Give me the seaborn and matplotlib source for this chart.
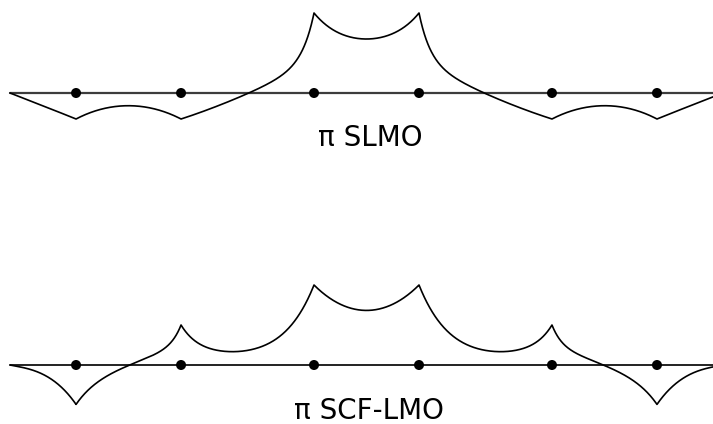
import numpy as np
import pandas as pd
import matplotlib
matplotlib.use("Agg")
import matplotlib.pyplot as plt
import seaborn as sns

# Carbon positions along the chain (short/long alternating bonds)
atoms_x = [-3.873, -2.473, -0.70, 0.70, 2.473, 3.873]
chain_ends = [-4.753, 4.753]

# Orbital amplitude sampled along the axis, pi SLMO
slmo_x = [-4.753, -4.53, -4.309, -4.09, -3.873, -3.553, -3.176, -2.797, -2.473,
          -2.043, -1.576, -1.331, -1.109, -0.976, -0.887, -0.797, -0.731, -0.70,
          -0.443, -0.176, 0.0, 0.176, 0.443, 0.70, 0.731, 0.797, 0.887, 0.976,
          1.109, 1.331, 1.576, 2.043, 2.473, 2.797, 3.176, 3.553, 3.873,
          4.09, 4.309, 4.53, 4.753]
slmo_y = [0.0, -0.0325, -0.065, -0.0975, -0.13, -0.085, -0.06, -0.085, -0.13,
          -0.068, 0.0, 0.032, 0.095, 0.15, 0.20, 0.262, 0.33, 0.40,
          0.315, 0.2765, 0.27, 0.2765, 0.315, 0.40, 0.33, 0.262, 0.20, 0.15,
          0.095, 0.032, 0.0, -0.068, -0.13, -0.085, -0.06, -0.085, -0.13,
          -0.0975, -0.065, -0.0325, 0.0]

# Orbital amplitude sampled along the axis, pi SCF-LMO
scf_x = [-4.753, -4.443, -4.22, -3.997, -3.873, -3.731, -3.553, -3.376, -3.176,
         -2.931, -2.709, -2.576, -2.473, -2.309, -2.131, -1.864, -1.597, -1.331,
         -1.064, -0.887, -0.776, -0.70, -0.443, -0.176, 0.0,
         0.176, 0.443, 0.70, 0.776, 0.887, 1.064, 1.331, 1.597, 1.864, 2.131,
         2.309, 2.473, 2.576, 2.709, 2.931, 3.176, 3.376, 3.553, 3.731, 3.873,
         3.997, 4.22, 4.443, 4.753]
scf_y = [0.0, -0.0275, -0.065, -0.14, -0.197, -0.13, -0.08, -0.0385, 0.0,
         0.0335, 0.0785, 0.1285, 0.20, 0.1285, 0.0865, 0.0665, 0.075, 0.1035,
         0.17, 0.2615, 0.3365, 0.40, 0.3285, 0.2785, 0.27,
         0.2785, 0.3285, 0.40, 0.3365, 0.2615, 0.17, 0.1035, 0.075, 0.0665, 0.0865,
         0.1285, 0.20, 0.1285, 0.0785, 0.0335, 0.0, -0.0385, -0.08, -0.13, -0.197,
         -0.14, -0.065, -0.0275, 0.0]

labels = ["\u03c0 SLMO", "\u03c0 SCF-LMO"]

# Range of decay constants tried for the exponential tails between nuclei
decay_grid = np.linspace(0.3, 8.0, 40)


def segment_basis(t, length, k_left, k_right):
    return np.column_stack([np.ones_like(t), t,
                            np.exp(-k_left * t), np.exp(-k_right * (length - t))])


def fit_segment(t, y, length):
    w = np.where(np.isclose(t, 0) | np.isclose(t, length), 30.0, 1.0)
    best = None
    for kl in decay_grid:
        for kr in decay_grid:
            A = segment_basis(t, length, kl, kr)
            Aw = A * w[:, None]
            lhs = Aw.T @ Aw + 1e-5 * np.eye(4)
            coef = np.linalg.solve(lhs, Aw.T @ (y * w))
            err = np.sum((w * (A @ coef - y)) ** 2) + 1e-5 * np.sum(coef ** 2)
            if best is None or err < best[0]:
                best = (err, kl, kr, coef)
    return best[1:]


def orbital_curve(xs, ys):
    """Trace the orbital between consecutive nuclei with exponential tails,
    so every nucleus keeps its cusp."""
    xs = np.asarray(xs, float)
    ys = np.asarray(ys, float)
    knots = [chain_ends[0]] + list(atoms_x) + [chain_ends[1]]
    gx, gy = [], []
    for a, b in zip(knots[:-1], knots[1:]):
        sel = (xs >= a - 1e-9) & (xs <= b + 1e-9)
        length = b - a
        kl, kr, coef = fit_segment(xs[sel] - a, ys[sel], length)
        tq = np.linspace(0, length, 300)
        gx.append(a + tq)
        gy.append(segment_basis(tq, length, kl, kr) @ coef)
    return np.concatenate(gx), np.concatenate(gy)


sns.set_theme(style="white")
fig = plt.figure(figsize=(7.13, 4.24), dpi=100)
ax_top = fig.add_axes([0, 0.5, 1, 0.5])
ax_bot = fig.add_axes([0, 0.0, 1, 0.5])

panels = [
    (ax_top, slmo_x, slmo_y, (-0.595, 0.465), "#3c3c3c", 1.6),
    (ax_bot, scf_x, scf_y, (-0.295, 0.765), "#111111", 1.3),
]

for ax, xs, ys, ylim, axis_color, axis_lw in panels:
    cx, cy = orbital_curve(xs, ys)
    axis_df = pd.DataFrame({"x": chain_ends, "y": [0.0, 0.0]})
    sns.lineplot(data=axis_df, x="x", y="y", ax=ax, color=axis_color,
                 linewidth=axis_lw, estimator=None, sort=False)
    curve_df = pd.DataFrame({"x": cx, "psi": cy})
    sns.lineplot(data=curve_df, x="x", y="psi", ax=ax, color="black",
                 linewidth=1.2, estimator=None, sort=False)
    atom_df = pd.DataFrame({"x": atoms_x, "y": np.zeros(len(atoms_x))})
    sns.scatterplot(data=atom_df, x="x", y="y", ax=ax, color="black",
                    s=52, edgecolor="none", zorder=5)
    ax.set_xlim(-4.887, 4.62)
    ax.set_ylim(*ylim)
    ax.axis("off")

ax_top.text(0.047, -0.225, labels[0], ha="center", va="center",
            fontsize=20, color="black", family="DejaVu Sans")
ax_bot.text(0.035, -0.232, labels[1], ha="center", va="center",
            fontsize=20, color="black", family="DejaVu Sans")

fig.savefig("out.png", dpi=100)
